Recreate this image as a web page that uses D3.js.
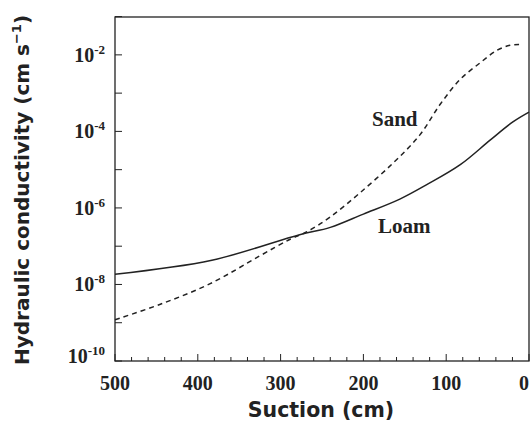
<!DOCTYPE html>
<html>
<head>
<meta charset="utf-8">
<script src="https://cdn.jsdelivr.net/npm/d3@7"></script>
<style>
  html, body { margin: 0; padding: 0; background: #fff; }
  svg { display: block; }
</style>
</head>
<body>
<div id="chart"></div>
<script>
// ---- data ----
const sandSuction = [500, 446, 385, 325, 289, 268, 240, 204, 164, 132, 107, 83, 59, 39, 23, 12];
const sandK = [1.2e-9, 3.0e-9, 1.05e-8, 5.6e-8, 1.5e-7, 2.4e-7, 5.8e-7, 2.5e-6, 1.5e-5, 8.0e-5, 5.2e-4, 2.3e-3, 6.2e-3, 1.3e-2, 1.78e-2, 1.86e-2];
const loamSuction = [500, 383, 277, 240, 200, 156, 124, 83, 47, 19, 0];
const loamK = [1.86e-8, 4.3e-8, 2.0e-7, 3.1e-7, 6.9e-7, 1.7e-6, 4.0e-6, 1.35e-5, 5.9e-5, 1.8e-4, 3.2e-4];
const xTicks = [500, 400, 300, 200, 100, 0];
const xMinorTicks = d3.range(0, 501, 20);
const yTickExponents = [-10, -9, -8, -7, -6, -5, -4, -3, -2, -1];
const yLabelExponents = [-10, -8, -6, -4, -2];
const seriesNames = ["Sand", "Loam"];

// ---- layout ----
const W = 531, H = 421;
const mLeft = 115, mRight = 529, mTop = 17, mBottom = 361;

const svg = d3.select("#chart").append("svg")
  .attr("width", W).attr("height", H);

const x = d3.scaleLinear().domain([500, 0]).range([mLeft, mRight]);
const y = d3.scaleLog().domain([1e-10, 1e-1]).range([mBottom, mTop - 0.4]);

const serif = "'Liberation Serif', 'Times New Roman', serif";
const sans = "'DejaVu Sans', sans-serif";

// frame
svg.append("rect")
  .attr("x", mLeft).attr("y", mTop)
  .attr("width", mRight - mLeft).attr("height", mBottom - mTop)
  .attr("fill", "none").attr("stroke", "#222").attr("stroke-width", 1.3);

// x ticks (inward)
svg.append("g").selectAll("line").data(xMinorTicks).join("line")
  .attr("x1", d => x(d)).attr("x2", d => x(d))
  .attr("y1", mBottom).attr("y2", d => mBottom - (d % 100 === 0 ? 7 : 4))
  .attr("stroke", "#222").attr("stroke-width", 1);

svg.append("g").selectAll("text").data(xTicks).join("text")
  .attr("x", d => Math.min(x(d), 524)).attr("y", 390)
  .attr("text-anchor", "middle")
  .attr("font-family", serif).attr("font-weight", "bold").attr("font-size", 20)
  .attr("fill", "#222")
  .text(d => d);

// y ticks (inward)
svg.append("g").selectAll("line").data(yTickExponents).join("line")
  .attr("x1", mLeft).attr("x2", mLeft + 7)
  .attr("y1", d => y(Math.pow(10, d))).attr("y2", d => y(Math.pow(10, d)))
  .attr("stroke", "#222").attr("stroke-width", 1);

const yl = svg.append("g").selectAll("text").data(yLabelExponents).join("text")
  .attr("x", 105)
  .attr("y", d => y(Math.pow(10, d)) + (d === -10 ? 2 : 7))
  .attr("text-anchor", "end")
  .attr("font-family", serif).attr("font-weight", "bold").attr("font-size", 20)
  .attr("fill", "#222");
yl.append("tspan").text("10");
yl.append("tspan").attr("dy", -8).attr("font-size", 13).text(d => d);

// axis titles
svg.append("text")
  .attr("x", 321).attr("y", 417)
  .attr("text-anchor", "middle")
  .attr("font-family", sans).attr("font-weight", "bold").attr("font-size", 20.5)
  .attr("fill", "#222")
  .text("Suction (cm)");

const yt = svg.append("text")
  .attr("transform", "translate(28.5,190) rotate(-90)")
  .attr("text-anchor", "middle")
  .attr("font-family", sans).attr("font-weight", "bold").attr("font-size", 20)
  .attr("fill", "#222");
yt.append("tspan").text("Hydraulic conductivity (cm s");
yt.append("tspan").attr("dy", -8).attr("font-size", 13).text("\u22121");
yt.append("tspan").attr("dy", 8).text(")");

// lines
const line = d3.line()
  .x(d => x(d[0])).y(d => y(d[1]))
  .curve(d3.curveCatmullRom.alpha(0.5));

const sandData = sandSuction.map((s, i) => [s, sandK[i]]);
const loamData = loamSuction.map((s, i) => [s, loamK[i]]);

svg.append("path")
  .datum(sandData)
  .attr("d", line)
  .attr("fill", "none").attr("stroke", "#222")
  .attr("stroke-width", 1.5).attr("stroke-dasharray", "5,4");

svg.append("path")
  .datum(loamData)
  .attr("d", line)
  .attr("fill", "none").attr("stroke", "#222")
  .attr("stroke-width", 1.5);

// series labels
svg.append("text")
  .attr("x", 372).attr("y", 126)
  .attr("font-family", serif).attr("font-weight", "bold").attr("font-size", 21)
  .attr("fill", "#222")
  .text(seriesNames[0]);

svg.append("text")
  .attr("x", 378).attr("y", 233)
  .attr("font-family", serif).attr("font-weight", "bold").attr("font-size", 21)
  .attr("fill", "#222")
  .text(seriesNames[1]);
</script>
</body>
</html>
